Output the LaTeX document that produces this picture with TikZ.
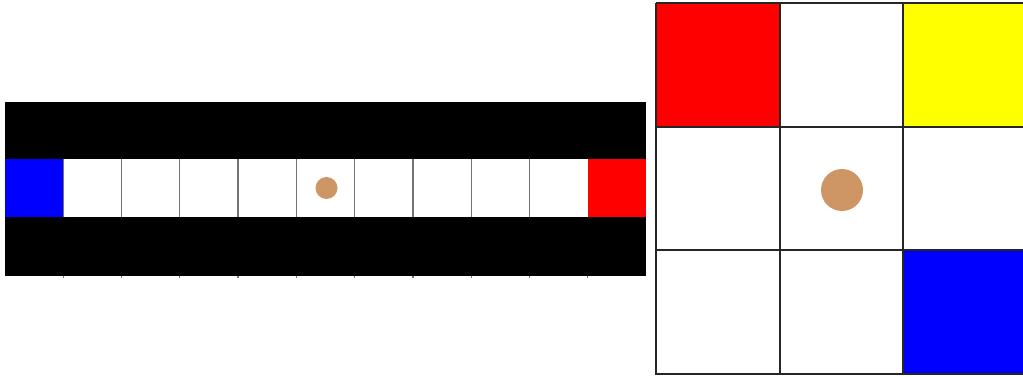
\documentclass[tikz,border=0pt]{standalone}
\definecolor{agentbrown}{RGB}{205,150,100}
\definecolor{goalred}{RGB}{255,0,0}
\definecolor{goalblue}{RGB}{0,0,255}
\definecolor{goalyellow}{RGB}{255,255,0}
\tikzset{
  cellline/.style={draw=black!55, line width=0.7pt},
  gridline/.style={draw=black!85, line width=1pt},
  agentdot/.style={circle, fill=agentbrown, inner sep=0pt}
}
\begin{document}
\begin{tikzpicture}[x=0.02cm,y=-0.02cm]
\useasboundingbox (0,0) rectangle (1023,377);
% corridor world
\fill[black] (5,102) rectangle (646,276);
\fill[white] (5,159) rectangle (646,217);
\fill[goalblue] (5,159) rectangle (63.3,217);
\fill[goalred] (587.7,159) rectangle (646,217);
\foreach \i in {1,...,9}
  \draw[cellline] ({5+\i*58.27},159) -- ({5+\i*58.27},217);
\foreach \i in {1,...,10}
  \draw[cellline] ({5+\i*58.27},276) -- ({5+\i*58.27},278);
\node[agentdot, minimum size=0.44cm] (agentL) at (326.5,188) {};
% 3x3 world
\fill[goalred] (656,3) rectangle (780,127);
\fill[goalyellow] (903,3) rectangle (1023,127);
\fill[goalblue] (903,250) rectangle (1023,374);
\foreach \x in {656,780,903}
  \draw[gridline] (\x,3) -- (\x,375);
\foreach \y in {3,127,250,374}
  \draw[gridline] (656,\y) -- (1023,\y);
\node[agentdot, minimum size=0.84cm] (agentR) at (842,190) {};
\end{tikzpicture}
\end{document}
